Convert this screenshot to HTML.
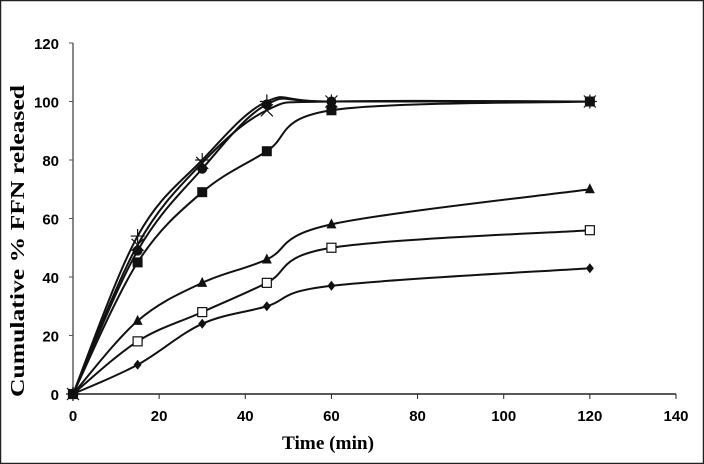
<!DOCTYPE html>
<html><head><meta charset="utf-8"><style>
body{margin:0;background:#fff}
svg{display:block;font-family:"Liberation Sans",Arial,sans-serif}
</style></head><body>
<svg id="chart" width="704" height="464" viewBox="0 0 704 464">
<rect x="0.5" y="0.5" width="703" height="463" fill="#fff" stroke="#222" stroke-width="1.5"/>
<g id="axes"></g><g id="series"></g>
<text x="328" y="449" text-anchor="middle" font-family="Liberation Serif,serif" font-weight="bold" font-size="19" textLength="92" lengthAdjust="spacingAndGlyphs">Time (min)</text>
<text transform="translate(24,241) rotate(-90)" text-anchor="middle" font-family="Liberation Serif,serif" font-weight="bold" font-size="20" textLength="312" lengthAdjust="spacingAndGlyphs">Cumulative % FFN released</text>
</svg>
<script>
const times=[0,15,30,45,60,120];
const diamondVals=[0,10,24,30,37,43];
const openSquareVals=[0,18,28,38,50,56];
const triangleVals=[0,25,38,46,58,70];
const squareVals=[0,45,69,83,97,100];
const circleVals=[0,49,77,99,100,100];
const plusVals=[0,54,80,100,100,100];
const starVals=[0,51,79,97,100,100];
const xTicks=[0,20,40,60,80,100,120,140];
const yTicks=[0,20,40,60,80,100,120];
const NS="http://www.w3.org/2000/svg";
const X=v=>73+v*(676-73)/140;
const Y=v=>394-v*(394-43)/120;
const axes=document.getElementById('axes'),ser=document.getElementById('series');
function mk(tag,attrs,parent){const e=document.createElementNS(NS,tag);for(const k in attrs)e.setAttribute(k,attrs[k]);parent.appendChild(e);return e;}
let e=mk('line',{x1:73,y1:43,x2:73,y2:394,stroke:'#888','stroke-width':2},axes);


e=mk('line',{x1:73,y1:394,x2:676,y2:394,stroke:'#222','stroke-width':1.5},axes);


yTicks.forEach(t=>{
 mk('line',{x1:69,x2:73,y1:Y(t),y2:Y(t),stroke:'#555'},axes);
 const tx=mk('text',{x:59,y:Y(t)+6,'text-anchor':'end','font-size':15,'font-weight':'bold'},axes);tx.textContent=t;
 
 
});
xTicks.forEach(t=>{
 mk('line',{x1:X(t),x2:X(t),y1:394,y2:399,stroke:'#222'},axes);
 const tx=mk('text',{x:X(t),y:421,'text-anchor':'middle','font-size':15,'font-weight':'bold'},axes);tx.textContent=t;
 
 
});
function path(vals){
 const p=vals.map((v,i)=>[X(times[i]),Y(v)]);
 let d=`M${p[0][0]},${p[0][1]}`;
 for(let i=0;i<p.length-1;i++){
  const p0=p[Math.max(0,i-1)],p1=p[i],p2=p[i+1],p3=p[Math.min(p.length-1,i+2)];
  const t=0.34;
  const c1=[p1[0]+(p2[0]-p0[0])*t/2,p1[1]+(p2[1]-p0[1])*t/2];
  const c2=[p2[0]-(p3[0]-p1[0])*t/2,p2[1]-(p3[1]-p1[1])*t/2];
  d+=` C${c1[0]},${c1[1]} ${c2[0]},${c2[1]} ${p2[0]},${p2[1]}`;
 }
 return d;
}
function marker(g,type,x,y){
 if(type==='diamond')mk('polygon',{points:`${x},${y-5} ${x+4},${y} ${x},${y+5} ${x-4},${y}`,fill:'#111'},g);
 else if(type==='opensq')mk('rect',{x:x-4.5,y:y-4.5,width:9,height:9,fill:'#fff',stroke:'#111','stroke-width':1.2},g);
 else if(type==='tri')mk('polygon',{points:`${x},${y-6} ${x+5},${y+4} ${x-5},${y+4}`,fill:'#111'},g);
 else if(type==='sq')mk('rect',{x:x-5,y:y-5,width:10,height:10,fill:'#111'},g);
 else if(type==='circle')mk('circle',{cx:x,cy:y,r:5,fill:'#111'},g);
 else if(type==='plus'){mk('path',{d:`M${x-7},${y}H${x+7}M${x},${y-7}V${y+7}`,stroke:'#111','stroke-width':1.2},g);}
 else if(type==='star'){mk('path',{d:`M${x-6},${y-6}L${x+6},${y+6}M${x-6},${y+6}L${x+6},${y-6}`,stroke:'#111','stroke-width':1.2},g);}
}
const all=[['diamond',diamondVals,'series-diamond'],['opensq',openSquareVals,'series-open-square'],['tri',triangleVals,'series-triangle'],['sq',squareVals,'series-filled-square'],['star',starVals,'series-asterisk'],['circle',circleVals,'series-circle'],['plus',plusVals,'series-plus']];
all.forEach(([type,vals,name])=>{
 const g=mk('g',{},ser);
 
 
 mk('path',{d:path(vals),fill:'none',stroke:'#111','stroke-width':2},g);
 vals.forEach((v,i)=>marker(g,type,X(times[i]),Y(v)));
});
</script>
</body></html>
